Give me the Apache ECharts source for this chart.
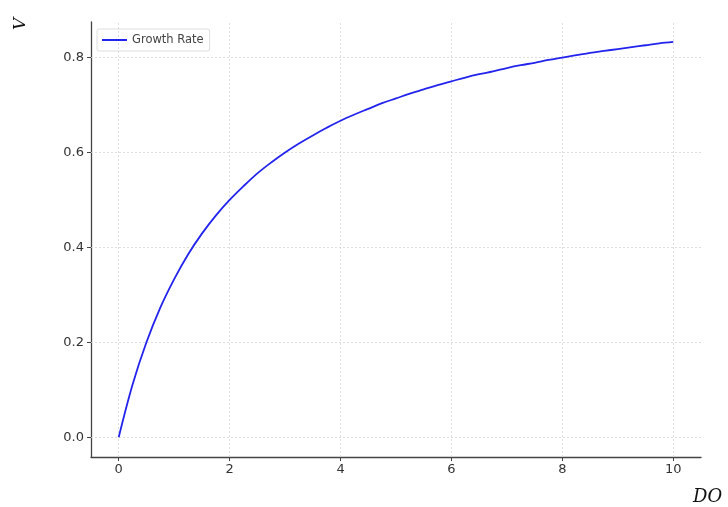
<!DOCTYPE html>
<html>
<head>
<meta charset="utf-8">
<script src="https://cdn.jsdelivr.net/npm/echarts@6/dist/echarts.min.js"></script>
<style>
  html, body { margin: 0; padding: 0; background: #fff; }
  #chart { width: 728px; height: 507px; }
</style>
</head>
<body>
<div id="chart"></div>
<script>
// Dissolved oxygen (DO) and growth rate (V), sampled every 0.25 along the curve
const doValues = [0, 0.25, 0.5, 0.75, 1, 1.25, 1.5, 1.75, 2, 2.25, 2.5, 2.75, 3, 3.25, 3.5, 3.75, 4, 4.25, 4.5, 4.75, 5, 5.25, 5.5, 5.75, 6, 6.25, 6.5, 6.75, 7, 7.25, 7.5, 7.75, 8, 8.25, 8.5, 8.75, 9, 9.25, 9.5, 9.75, 10];
const rateValues = [0, 0.111, 0.2, 0.273, 0.333, 0.385, 0.429, 0.467, 0.5, 0.529, 0.556, 0.579, 0.6, 0.619, 0.636, 0.652, 0.667, 0.680, 0.692, 0.704, 0.714, 0.724, 0.733, 0.742, 0.75, 0.758, 0.765, 0.771, 0.778, 0.784, 0.789, 0.795, 0.8, 0.805, 0.810, 0.814, 0.818, 0.822, 0.826, 0.830, 0.833];
const xTicks = [0, 2, 4, 6, 8, 10];
const yTicks = [0.0, 0.2, 0.4, 0.6, 0.8];
const seriesName = 'Growth Rate';

const points = doValues.map((d, i) => [d, rateValues[i]]);

const chart = echarts.init(document.getElementById('chart'), null, { renderer: 'canvas' });
const axisGray = '#444';

chart.setOption({
  animation: false,
  backgroundColor: '#fff',
  textStyle: { fontFamily: 'DejaVu Sans' },
  grid: { left: 91, right: 27, top: 22, bottom: 50 },
  legend: {
    left: 97, top: 29,
    data: [seriesName],
    itemWidth: 25, itemHeight: 2, itemGap: 6,
    padding: [5, 6, 5, 5],
    borderColor: '#ddd', borderWidth: 1, borderRadius: 2,
    textStyle: { fontSize: 11.5, color: '#444', fontFamily: 'DejaVu Sans' },
    icon: 'rect'
  },
  xAxis: {
    type: 'value', min: -0.5, max: 10.5, interval: 0.5,
    axisLine: { show: true, onZero: false, lineStyle: { color: axisGray, width: 1.3 } },
    axisTick: { show: true, length: 4, lineStyle: { color: axisGray },
      customValues: xTicks },
    axisLabel: { color: '#333', fontSize: 13, margin: 6,
      customValues: xTicks, formatter: v => String(v) },
    splitLine: { show: false }
  },
  yAxis: {
    type: 'value', min: -0.0417, max: 0.875,
    axisLine: { show: true, onZero: false, lineStyle: { color: axisGray, width: 1.3 } },
    axisTick: { show: true, length: 4, lineStyle: { color: axisGray },
      customValues: yTicks },
    axisLabel: { color: '#333', fontSize: 13, margin: 7,
      customValues: yTicks, formatter: v => v.toFixed(1) },
    splitLine: { show: false }
  },
  series: [
    {
      name: seriesName,
      type: 'line',
      data: points,
      smooth: 0.35,
      showSymbol: false,
      lineStyle: { color: '#2323ee', width: 1.8 },
      itemStyle: { color: '#2323ee' },
      z: 5,
      markLine: {
        silent: true, symbol: 'none', label: { show: false },
        lineStyle: { color: '#d6d6d6', type: [2, 2], width: 0.8 },
        data: xTicks.map(t => ({ xAxis: t })).concat(yTicks.map(t => ({ yAxis: t }))),
        z: 1
      }
    }
  ],
  graphic: [
    {
      type: 'text', x: 12, y: 30, rotation: Math.PI / 2,
      style: { text: 'V', fontFamily: 'DejaVu Serif', fontStyle: 'italic', fontSize: 17, fill: '#111' }
    },
    {
      type: 'text', left: 693, top: 488,
      style: { text: 'DO', fontFamily: 'DejaVu Serif', fontStyle: 'italic', fontSize: 18, fill: '#111' }
    }
  ]
});
</script>
</body>
</html>
